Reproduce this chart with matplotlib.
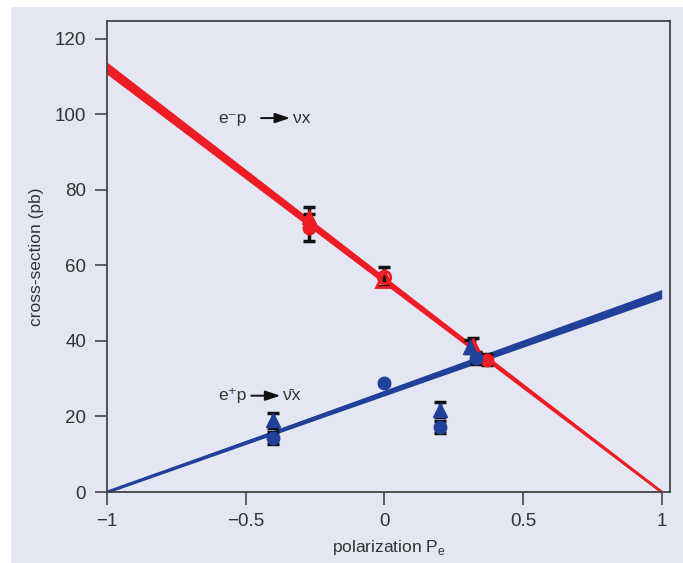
import matplotlib.pyplot as plt
from matplotlib.patches import Rectangle

plt.rcParams['font.family'] = ['Liberation Sans Narrow', 'Liberation Sans', 'DejaVu Sans']
plt.rcParams['axes.unicode_minus'] = True

BG = '#e4e7f3'
RED = '#ee1c25'
BLUE = '#21409a'

# fitted bands: polarization endpoints and lower/upper cross-section
band_P = [-1.0, 1.0]
red_lo = [110.6, -0.4]
red_hi = [113.8, 0.4]
blue_lo = [-0.3, 51.2]
blue_hi = [0.3, 53.6]

# e-p data (filled triangles / circles, open markers at P = 0)
red_tri_P = [-0.27, 0.32]
red_tri_y = [72.8, 39.0]
red_tri_err = [2.7, 1.8]
red_circ_P = [-0.27, 0.37]
red_circ_y = [70.0, 35.0]
red_circ_err = [3.5, 1.5]
red_open_P = [0.0]
red_open_tri_y = [56.3]
red_open_circ_y = [57.0]
red_open_err = [2.5]

# e+p data
blue_tri_P = [-0.40, 0.20, 0.31]
blue_tri_y = [19.0, 21.8, 38.5]
blue_tri_err = [2.0, 2.0, 1.8]
blue_circ_P = [-0.40, 0.0, 0.20, 0.33]
blue_circ_y = [14.3, 28.8, 17.2, 35.5]
blue_circ_err = [1.7, 0.6, 1.7, 1.5]

fig = plt.figure(figsize=(6.83, 5.63), dpi=100, facecolor='white')
fig.patches.append(Rectangle((11 / 683, 0), 1, 1 - 7 / 563, transform=fig.transFigure,
                             facecolor=BG, edgecolor='none', zorder=-10))
ax = fig.add_axes([0.1567, 0.1261, 0.8243, 0.8366])
ax.set_facecolor(BG)

# bands
ax.fill_between(band_P, red_lo, red_hi, color=RED, lw=0, zorder=2)
ax.plot(band_P, [(a + b) / 2 for a, b in zip(red_lo, red_hi)], color=RED, lw=2, zorder=2,
        solid_capstyle='butt')
ax.fill_between(band_P, blue_lo, blue_hi, color=BLUE, lw=0, zorder=2)
ax.plot(band_P, [(a + b) / 2 for a, b in zip(blue_lo, blue_hi)], color=BLUE, lw=2, zorder=2,
        solid_capstyle='butt')

eb = dict(fmt='none', ecolor='#111111', elinewidth=2.5, capsize=4.5, capthick=2.5, zorder=3)
ax.errorbar(red_tri_P, red_tri_y, yerr=red_tri_err, **eb)
ax.errorbar(red_circ_P, red_circ_y, yerr=red_circ_err, **eb)
ax.errorbar(red_open_P, red_open_circ_y, yerr=red_open_err, **eb)
ax.errorbar(blue_tri_P, blue_tri_y, yerr=blue_tri_err, **eb)
ax.errorbar(blue_circ_P, blue_circ_y, yerr=blue_circ_err, **eb)

ax.plot(red_tri_P, red_tri_y, '^', color=RED, ms=10, zorder=4)
ax.plot(red_circ_P, red_circ_y, 'o', color=RED, ms=9, zorder=4)
ax.plot(red_open_P, red_open_tri_y, '^', mfc='none', mec=RED, mew=2, ms=11, zorder=4)
ax.plot(red_open_P, red_open_circ_y, 'o', mfc='none', mec=RED, mew=2, ms=9, zorder=4)
ax.plot(blue_tri_P, blue_tri_y, '^', color=BLUE, ms=10, zorder=4)
ax.plot(blue_circ_P, blue_circ_y, 'o', color=BLUE, ms=9, zorder=4)

# process labels
tk = dict(fontsize=12.5, color='#333333', va='center')
ax.text(-0.60, 99, 'e\u207bp', ha='left', **tk)
ax.annotate('', xy=(-0.33, 99), xytext=(-0.455, 99),
            arrowprops=dict(arrowstyle='-|>,head_length=0.9,head_width=0.3', color='#111111', lw=1.4))
ax.text(-0.33, 99, '\u03bdx', ha='left', **tk)
ax.text(-0.60, 25.5, 'e\u207ap', ha='left', **tk)
ax.annotate('', xy=(-0.365, 25.5), xytext=(-0.49, 25.5),
            arrowprops=dict(arrowstyle='-|>,head_length=0.9,head_width=0.3', color='#111111', lw=1.4))
ax.text(-0.365, 25.5, '\u03bd\u0304x', ha='left', **tk)

ax.set_xlim(-1, 1.03)
ax.set_ylim(0, 124.7)
ax.set_xticks([-1, -0.5, 0, 0.5, 1])
ax.set_xticklabels(['\u22121', '\u22120.5', '0', '0.5', '1'])
ax.set_yticks([0, 20, 40, 60, 80, 100, 120])
ax.tick_params(direction='out', length=9, width=1.2, color='#444444', labelsize=13.5,
               labelcolor='#333333', pad=6)
for s in ax.spines.values():
    s.set_color('#444444')
    s.set_linewidth(1.3)

ax.set_xlabel('polarization P$_\\mathregular{e}$', fontsize=12.5, color='#333333', labelpad=6)
ax.set_ylabel('cross-section (pb)', fontsize=12.5, color='#333333', labelpad=8)

fig.savefig('out.png', dpi=100, facecolor=fig.get_facecolor())
